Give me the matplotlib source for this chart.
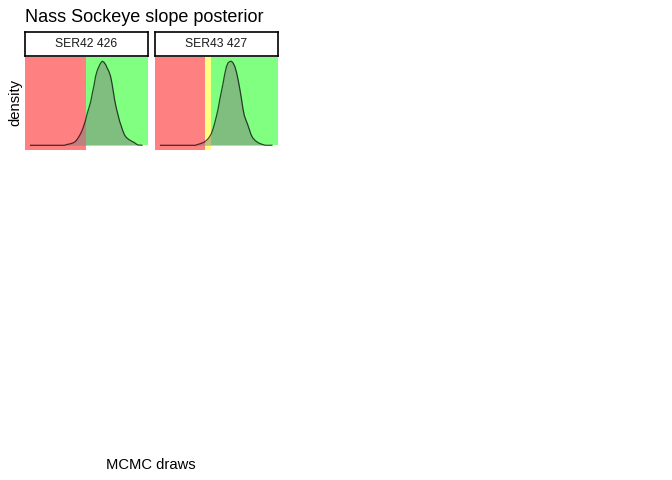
import numpy as np
import matplotlib
matplotlib.use("Agg")
import matplotlib.pyplot as plt

plt.rcParams["font.family"] = ["Liberation Sans", "DejaVu Sans"]

TITLE = "Nass Sockeye slope posterior"
PANELS = ["SER42 426", "SER43 427"]

# posterior density (slope, density)
slope_426 = [-0.165, -0.063, -0.058, -0.048, -0.038, -0.031, -0.025, -0.020, -0.015, -0.010,
             -0.005, 0.000, 0.005, 0.010, 0.015, 0.020, 0.025, 0.030, 0.035, 0.040,
             0.045, 0.050, 0.055, 0.060, 0.065, 0.070, 0.075, 0.079, 0.083, 0.087,
             0.092, 0.097, 0.102, 0.107, 0.112, 0.117, 0.122, 0.129, 0.137, 0.145,
             0.152, 0.157, 0.169]
dens_426 = [0, 0, 0.10, 0.20, 0.35, 0.55, 0.90, 1.30, 1.75, 2.30,
            3.00, 3.80, 4.80, 5.65, 6.50, 7.80, 9.00, 10.40, 11.30, 11.90,
            12.40, 12.70, 12.55, 12.20, 11.65, 11.15, 10.40, 9.40, 8.15, 6.90,
            5.65, 4.65, 3.65, 2.90, 2.15, 1.55, 1.20, 0.90, 0.65, 0.45,
            0.20, 0.05, 0]

slope_427 = [-0.152, -0.047, -0.042, -0.032, -0.022, -0.015, -0.009, -0.004, 0.001, 0.006,
             0.011, 0.016, 0.021, 0.026, 0.031, 0.036, 0.041, 0.046, 0.051, 0.056,
             0.061, 0.066, 0.071, 0.076, 0.081, 0.086, 0.091, 0.096, 0.100, 0.105,
             0.110, 0.115, 0.120, 0.125, 0.133, 0.143, 0.153, 0.163, 0.183]
dens_427 = [0, 0, 0.10, 0.25, 0.45, 0.70, 1.00, 1.35, 1.80, 2.50,
            3.40, 4.40, 5.50, 6.90, 8.15, 9.40, 10.80, 11.90, 12.50, 12.70,
            12.75, 12.50, 12.00, 11.15, 10.00, 8.65, 7.15, 5.50, 4.50, 3.80,
            3.15, 2.40, 1.65, 1.15, 0.70, 0.35, 0.15, 0, 0]

# status zones: red below, yellow between, green above
red_upper = [0.000, -0.017]
green_lower = [0.000, 0.000]

W, H = 672, 480
fig = plt.figure(figsize=(W / 100, H / 100), dpi=100)

panel_left = [25, 155]
panel_w = 122.5
panel_top, panel_bot = 57, 149.5
strip_top, strip_bot = 32, 56

data = [(slope_426, dens_426), (slope_427, dens_427)]

for i, (x, d) in enumerate(data):
    x = np.array(x)
    d = np.array(d)
    left = panel_left[i]
    ax = fig.add_axes([left / W, 1 - panel_bot / H, panel_w / W, (panel_bot - panel_top) / H])
    xr = x.max() - x.min()
    ax.set_xlim(x.min() - 0.05 * xr, x.max() + 0.05 * xr)
    ymax = d.max()
    ax.set_ylim(-0.05 * ymax, 1.05 * ymax)
    y0 = 0.05 / 1.1

    ax.axvspan(-1, red_upper[i], color="#FF8080", lw=0, zorder=1)
    if red_upper[i] < green_lower[i]:
        ax.axvspan(red_upper[i], green_lower[i], color="#FFFF80", lw=0, zorder=1)
    ax.axvspan(green_lower[i], 1, ymin=y0, ymax=1, color="#80FF80", lw=0, zorder=1)

    ax.fill_between(x, 0, d, color="#7f7f7f", alpha=0.5, lw=0, zorder=2)
    ax.plot(x, d, color="black", alpha=0.7, lw=0.9, zorder=3)
    ax.axis("off")

    sax = fig.add_axes([left / W, 1 - strip_bot / H, panel_w / W, (strip_bot - strip_top) / H])
    sax.set_xticks([])
    sax.set_yticks([])
    for s in sax.spines.values():
        s.set_linewidth(1.2)
    sax.text(0.5, 0.5, PANELS[i], ha="center", va="center", fontsize=8.7,
             color="#1a1a1a", transform=sax.transAxes)

fig.text(25 / W, 1 - 22 / H, TITLE, ha="left", va="baseline", fontsize=13)
fig.text(15 / W, 1 - 103 / H, "density", rotation=90, ha="center", va="center", fontsize=10.6)
fig.text(151 / W, 1 - 465 / H, "MCMC draws", ha="center", va="center", fontsize=10.6)

fig.savefig("out.png", dpi=100)
